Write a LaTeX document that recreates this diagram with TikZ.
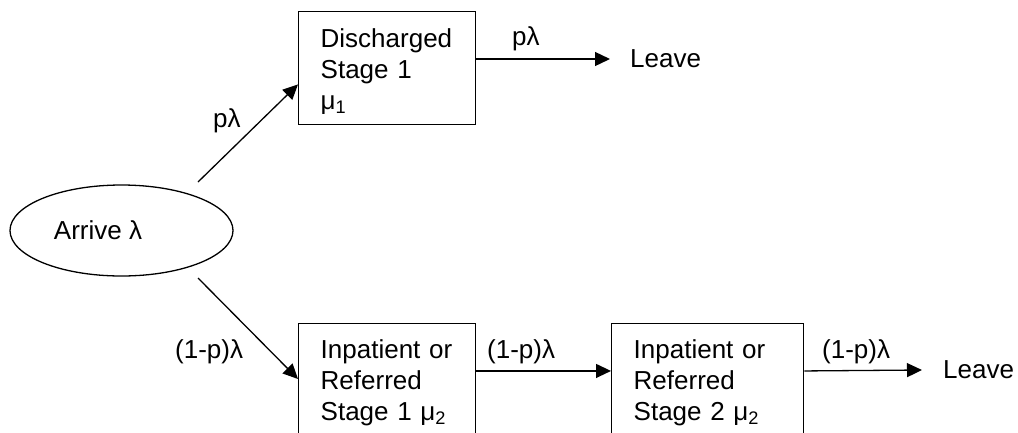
\documentclass[tikz,border=0pt]{standalone}
\usepackage{fontspec}
\setmainfont{Liberation Sans}
\usetikzlibrary{shapes.geometric,arrows.meta}
\begin{document}
\begin{tikzpicture}[x=1pt,y=-1pt,
  font=\fontsize{26}{31}\selectfont,
  stagebox/.style={draw, line width=1.4pt, rectangle, inner xsep=22pt, inner ysep=0pt, align=left, anchor=north west},
  arr/.style={line width=1.3pt, -{Triangle[length=15pt,width=14pt]}},
  lbl/.style={anchor=base west, inner sep=0pt},
  leavenode/.style={anchor=west, inner ysep=0pt}]
\useasboundingbox (0,0) rectangle (1018,432);
\clip (0,0) rectangle (1018,432);

\node[draw, ellipse, line width=1.3pt, minimum width=223pt, minimum height=91pt, inner sep=0pt] (arrive) at (121.5,230.5) {\hspace*{-47pt}Arrive λ};

\node[stagebox, text width=133pt, minimum width=177pt, minimum height=113pt] (d1) at (298,11)
  {\rule{0pt}{25pt}Discharged\\Stage 1\\μ\textsubscript{1}};
\node[stagebox, text width=133pt, minimum width=177pt, minimum height=118.5pt] (b1) at (298,323)
  {Inpatient or\\Referred\\Stage 1 μ\textsubscript{2}};
\node[stagebox, text width=148pt, minimum width=192pt, minimum height=118.5pt] (b2) at (611,323)
  {Inpatient or\\Referred\\Stage 2 μ\textsubscript{2}};

\node[leavenode, inner xsep=20pt] (l1) at (610,59) {Leave};
\node[leavenode, inner xsep=21pt] (l2) at (922,370) {Leave};

\coordinate (s1) at (198,182);
\coordinate (s2) at (198,278);

\draw[arr] (s1) -- ([yshift=41pt]d1.south west);
\draw[arr] (s2) -- ([yshift=-56pt]b1.north west);
\draw[arr] (d1.east |- l1.west) -- (l1.west);
\draw[arr] ([yshift=12pt]b1.east) -- ([yshift=12pt]b2.west);
\draw[arr] ([yshift=12pt]b2.east) -- (l2.west);

\node[lbl] (lp1) at (213,127) {pλ};
\node[lbl] (lp2) at (512,45) {pλ};
\node[lbl] (lq1) at (175,358) {(1-p)λ};
\node[lbl] (lq2) at (487,358) {(1-p)λ};
\node[lbl] (lq3) at (822,358) {(1-p)λ};
\end{tikzpicture}
\end{document}
